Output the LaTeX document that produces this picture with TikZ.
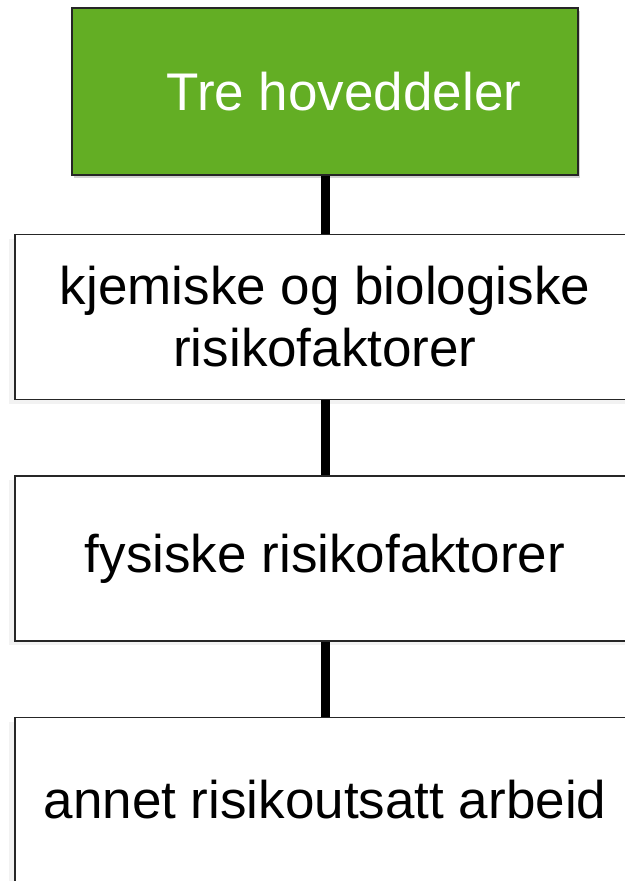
\documentclass[tikz,border=0pt]{standalone}
\usepackage{fontspec}
\setmainfont{Liberation Sans}
\usetikzlibrary{positioning,shadows}
\definecolor{leafgreen}{RGB}{99,174,36}
\tikzstyle{head} = [rectangle, minimum width=506pt, minimum height=167pt, text centered, draw=black!85, line width=1.5pt, fill=leafgreen, text=white, font=\fontsize{53}{62}\selectfont, drop shadow={shadow xshift=2pt, shadow yshift=-3pt, opacity=.35}]
\tikzstyle{part} = [rectangle, minimum width=620pt, minimum height=165pt, align=center, draw=black!85, line width=1.5pt, fill=white, font=\fontsize{53}{62}\selectfont, drop shadow={shadow xshift=-6pt, shadow yshift=-4pt, opacity=.1}]
\tikzstyle{link} = [line width=9pt, -]
\begin{document}
\begin{tikzpicture}
\useasboundingbox (0,0) rectangle (624pt,-881pt);

\node (main) [head] at (325pt,-91.5pt) {\hspace*{38pt}Tre hoveddeler};
%
\node (chem) [part, below=58pt of main] {kjemiske og biologiske\\risikofaktorer};
\node (phys) [part, below=75pt of chem] {fysiske risikofaktorer};
\node (other) [part, below=75pt of phys] {annet risikoutsatt arbeid};
%
\draw [link] (main) -- (chem);
\draw [link] (chem) -- (phys);
\draw [link] (phys) -- (other);
\end{tikzpicture}
\end{document}
